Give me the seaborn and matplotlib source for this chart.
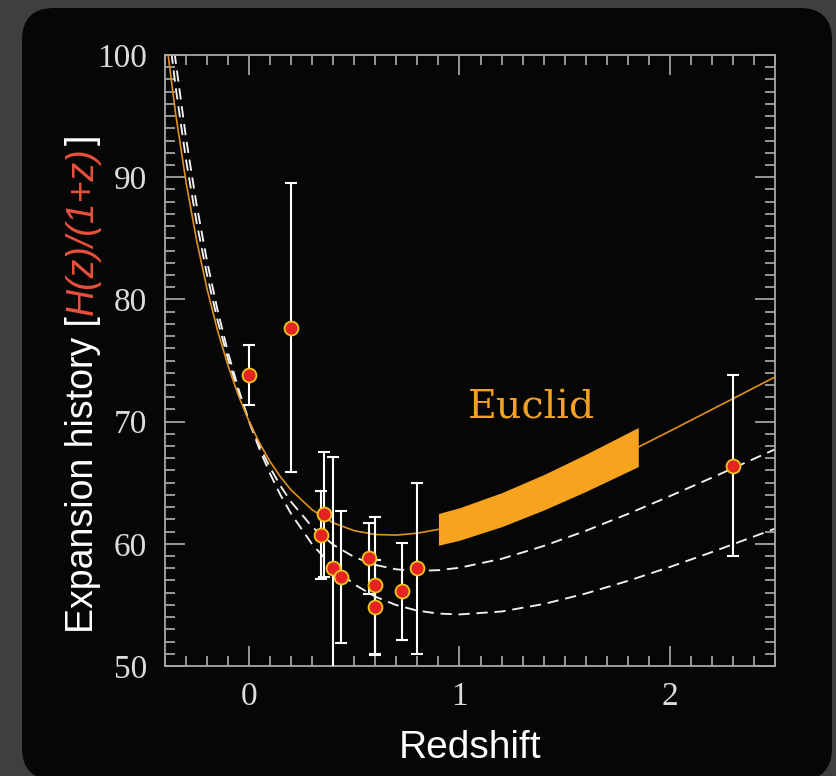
import matplotlib
matplotlib.use("Agg")
import matplotlib.pyplot as plt
import seaborn as sns
import pandas as pd
from matplotlib.patches import FancyBboxPatch
from matplotlib.ticker import MultipleLocator

# ---- data ----
redshift_grid = [-0.40, -0.35, -0.30, -0.25, -0.20, -0.15, -0.10, -0.05, 0.00, 0.05,
                 0.10, 0.15, 0.20, 0.30, 0.40, 0.50, 0.60, 0.70, 0.80, 0.90,
                 1.00, 1.20, 1.40, 1.60, 1.80, 2.00, 2.20, 2.50]
model_orange = [102.03, 95.26, 89.60, 84.85, 80.84, 77.44, 74.55, 72.09, 70.00, 68.23,
                66.72, 65.45, 64.39, 62.77, 61.71, 61.07, 60.76, 60.71, 60.87, 61.18,
                61.62, 62.79, 64.21, 65.80, 67.48, 69.22, 70.99, 73.65]
model_dash_upper = [104.61, 97.44, 91.42, 86.32, 81.99, 78.28, 75.10, 72.36, 70.00, 67.97,
                    66.22, 64.71, 63.42, 61.38, 59.92, 58.91, 58.27, 57.91, 57.79, 57.84,
                    58.04, 58.77, 59.82, 61.06, 62.44, 63.90, 65.41, 67.73]
model_dash_lower = [107.13, 99.57, 93.20, 87.77, 83.12, 79.11, 75.64, 72.63, 70.00, 67.71,
                    65.71, 63.96, 62.44, 59.95, 58.07, 56.68, 55.67, 54.98, 54.53, 54.29,
                    54.22, 54.46, 55.07, 55.93, 56.96, 58.10, 59.32, 61.24]

euclid_z = [0.90, 1.00, 1.20, 1.40, 1.60, 1.85]
euclid_low = [59.88, 60.29, 61.40, 62.76, 64.28, 66.32]
euclid_high = [62.48, 62.95, 64.18, 65.66, 67.32, 69.52]

obs_z = [0.000, 0.198, 0.340, 0.358, 0.397, 0.437, 0.569, 0.600, 0.600, 0.728, 0.800, 2.300]
obs_h = [73.8, 77.7, 60.7, 62.4, 58.0, 57.3, 58.8, 56.6, 54.8, 56.1, 58.0, 66.4]
obs_err = [2.45, 11.85, 3.6, 5.1, 9.1, 5.4, 2.9, 5.6, 3.9, 4.0, 7.0, 7.4]

x_ticks = [0, 1, 2]
y_ticks = [50, 60, 70, 80, 90, 100]

# ---- figure ----
W, H = 836, 776
fig = plt.figure(figsize=(W / 100, H / 100), dpi=100)
fig.patch.set_facecolor("#3f3f3f")

panel = FancyBboxPatch((0.22, -0.04), 8.10, 7.72,
                       boxstyle="round,pad=0,rounding_size=0.32",
                       transform=fig.dpi_scale_trans,
                       facecolor="#060607", edgecolor="none", zorder=0)
fig.add_artist(panel)

ax = fig.add_axes([165 / W, (H - 666) / H, 610 / W, 611 / H])
ax.set_facecolor("none")
ax.set_zorder(2)

curves = pd.DataFrame({"z": redshift_grid, "orange": model_orange,
                       "up": model_dash_upper, "low": model_dash_lower})

dash = (0, (6.0, 3.6))
sns.lineplot(data=curves, x="z", y="low", color="#f2f2f2", lw=1.35, linestyle=dash,
             sort=False, estimator=None, ax=ax, zorder=2)
sns.lineplot(data=curves, x="z", y="up", color="#f2f2f2", lw=1.35, linestyle=dash,
             sort=False, estimator=None, ax=ax, zorder=2)
sns.lineplot(data=curves, x="z", y="orange", color="#e0901c", lw=1.2,
             sort=False, estimator=None, ax=ax, zorder=3)

ax.fill_between(euclid_z, euclid_low, euclid_high, color="#f7a31e", lw=0, zorder=4)

ax.errorbar(obs_z, obs_h, yerr=obs_err, fmt="none", ecolor="white",
            elinewidth=1.5, capsize=4.6, capthick=1.5, zorder=5)
sns.scatterplot(x=obs_z, y=obs_h, s=100, color="#e62323", edgecolor="#ecc81c",
                linewidth=1.3, zorder=6, ax=ax)

ax.text(1.34, 70.29, "Euclid", color="#f2a223", fontsize=28.5,
        family="DejaVu Serif", ha="center", va="baseline", zorder=7)

ax.set_xlim(-0.4, 2.5)
ax.set_ylim(50, 100)
ax.set_xticks(x_ticks)
ax.set_yticks(y_ticks)
ax.xaxis.set_minor_locator(MultipleLocator(0.1))
ax.yaxis.set_minor_locator(MultipleLocator(1))
ax.set_xlabel("")
ax.set_ylabel("")

for s in ax.spines.values():
    s.set_color("#a8a8a8")
    s.set_linewidth(1.3)

ax.tick_params(which="both", direction="in", top=True, right=True,
               color="#b0b0b0", width=1.2, labelcolor="#dcdcdc", labelsize=24)
ax.tick_params(which="major", length=14.4)
ax.tick_params(which="minor", length=7.2)
ax.tick_params(axis="x", pad=11)
ax.tick_params(axis="y", pad=13)
for lab in ax.get_xticklabels() + ax.get_yticklabels():
    lab.set_fontfamily("Liberation Serif")

# x label
fig.text(470 / W, (H - 758) / H, "Redshift", color="white", fontsize=28,
         family="Liberation Sans", ha="center", va="baseline")

# y label with coloured part
fig.canvas.draw()
r = fig.canvas.get_renderer()
x_base = 93 / W
y_pos = (H - 633) / H
pieces = [("Expansion history [", "white", "normal"),
          ("H(z)/(1+z)", "#e8503c", "italic"),
          ("]", "white", "normal")]
for txt, col, sty in pieces:
    t = fig.text(x_base, y_pos, txt, rotation=90, rotation_mode="anchor",
                 ha="left", va="baseline", color=col, fontsize=27,
                 family="Liberation Sans", style=sty)
    bb = t.get_window_extent(r)
    y_pos = bb.y1 / fig.bbox.height + 1.5 / H

fig.savefig("out.png", dpi=100, facecolor=fig.get_facecolor())
